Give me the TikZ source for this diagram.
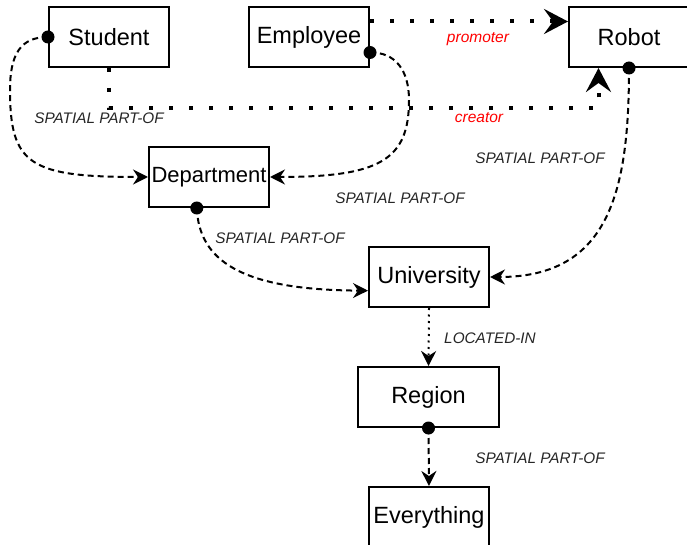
\documentclass[tikz,border=0pt]{standalone}
\usepackage{fontspec}
\setmainfont{Liberation Sans}
\usetikzlibrary{arrows.meta,calc}
\begin{document}
\begin{tikzpicture}[x=1pt,y=-1pt,
  box/.style={draw, line width=2pt, minimum width=120pt, minimum height=60pt, inner sep=0pt, font=\fontsize{23.5}{28}\selectfont},
  lbl/.style={font=\fontsize{15.3}{18}\selectfont\itshape, text=black!85},
  rlbl/.style={font=\fontsize{15.5}{18}\selectfont\itshape, text=red},
  dsh/.style={line width=2pt, dash pattern=on 6pt off 4pt, -{Stealth[length=15pt,width=15pt,inset=5pt]}},
  thickdot/.style={line width=4pt, dash pattern=on 4pt off 16pt, -{Stealth[length=24pt,width=25pt,inset=9pt]}},
  fine/.style={line width=2pt, dash pattern=on 2pt off 4.5pt, -{Stealth[length=15pt,width=15pt,inset=5pt]}}
]
\useasboundingbox (0,0) rectangle (687,545);
\node[box] (stu) at (109,37) {Student};
\node[box] (emp) at (309,37) {Employee};
\node[box] (rob) at (629,37) {Robot};
\node[box, font=\fontsize{22}{26}\selectfont] (dep) at (209,177) {Department};
\node[box] (uni) at (429,277) {University};
\node[box, minimum width=141pt] (reg) at (428.5,397) {Region};
\node[box] (eve) at (429,517) {Everything};

% dotted thick connectors
\draw[thickdot] ($(emp.north east)!0.25!(emp.south east)$) -- ($(rob.north west)!0.25!(rob.south west)$);
\draw[thickdot] (stu.south) -- ++(0,40) -| ($(rob.south west)!0.25!(rob.south east)$);

% dashed curves
\draw[dsh] (stu.west) .. controls (20,37) and (10,55) .. (10,90) .. controls (10,165) and (30,177) .. (dep.west);
\draw[dsh] ($(emp.north east)!0.75!(emp.south east)$) .. controls (395,52) and (409,70) .. (409,100) .. controls (409,160) and (380,177) .. (dep.east);
\draw[dsh] ($(dep.south west)!0.4!(dep.south east)$) .. controls (199,260) and (240,290) .. ($(uni.north west)!0.72!(uni.south west)$);
\draw[dsh] (rob.south) .. controls (629,190) and (610,277) .. (uni.east);
\draw[fine] (uni.south) -- (reg.north);
\draw[dsh] (reg.south) -- (eve.north);

% start dots
\fill (stu.west) circle (6.5pt);
\fill ($(emp.north east)!0.75!(emp.south east)$) circle (6.5pt);
\fill ($(dep.south west)!0.4!(dep.south east)$) circle (6.5pt);
\fill (rob.south) circle (6.5pt);
\fill (reg.south) circle (6.5pt);

% labels
\node[lbl] (l1) at (99,118) {SPATIAL PART-OF};
\node[lbl] (l2) at (400,198) {SPATIAL PART-OF};
\node[lbl] (l3) at (540,158) {SPATIAL PART-OF};
\node[lbl] (l4) at (280,238) {SPATIAL PART-OF};
\node[lbl] (l5) at (540,458) {SPATIAL PART-OF};
\node[lbl] (l6) at (490,338) {LOCATED-IN};
\node[rlbl] (l7) at (478,39) {promoter};
\node[rlbl] (l8) at (479,118) {creator};
\end{tikzpicture}
\end{document}
